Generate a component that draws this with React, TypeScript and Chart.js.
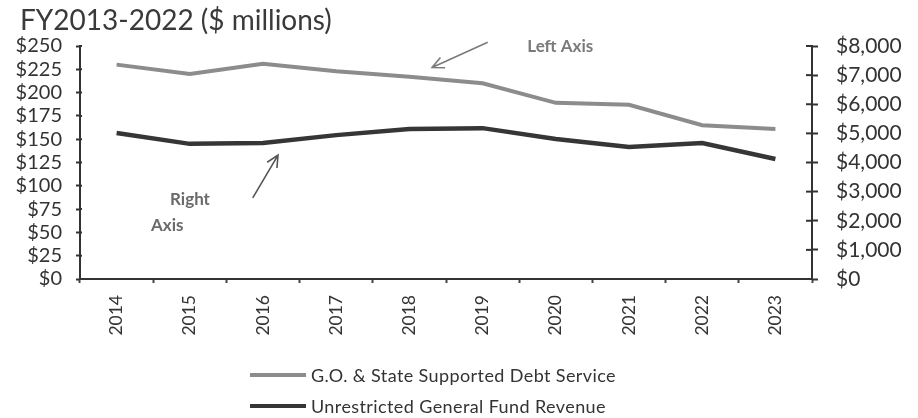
import React, { useEffect, useRef } from "react";
import { Chart, registerables } from "chart.js";

Chart.register(...registerables);

const titleText = "FY2013-2022 ($ millions)";
const years = ["2014", "2015", "2016", "2017", "2018", "2019", "2020", "2021", "2022", "2023"];
const debtService = [230, 220, 231, 223, 217, 210, 189, 187, 165, 161];
const gfRevenue = [5010, 4640, 4670, 4940, 5150, 5180, 4810, 4530, 4670, 4120];
const seriesNames = ["G.O. & State Supported Debt Service", "Unrestricted General Fund Revenue"];
const seriesColors = ["#8c8c8c", "#363636"];
const leftMax = 250;
const leftStep = 25;
const rightMax = 8000;
const rightStep = 1000;

// annotations anchored in data space (x = category index, y = left-axis value)
const notes = [
  { text: "Left Axis", xi: 5.61, y: 249, color: "#7a7a7a" },
  { text: "Right", xi: 0.73, y: 85, color: "#6a6a6a" },
  { text: "Axis", xi: 0.47, y: 57, color: "#6a6a6a" },
];
const arrows = [
  { from: [5.07, 254], to: [4.31, 227], color: "#7a7a7a" },
  { from: [1.86, 87], to: [2.205, 133], color: "#555555" },
];

const FONT = "Lato, 'Open Sans', sans-serif";

const fmtMoney = (v: number) => "$" + Number(v).toLocaleString("en-US");

const annotationPlugin = {
  id: "annotations",
  afterDraw(chart: any) {
    const ctx = chart.ctx;
    const xs = chart.scales.x;
    const ys = chart.scales.y;
    const yr = chart.scales.y1;
    ctx.save();
    ctx.strokeStyle = "#333";
    ctx.lineWidth = 2;
    for (let v = 0; v <= rightMax; v += rightStep) {
      const py = yr.getPixelForValue(v);
      ctx.beginPath();
      ctx.moveTo(chart.chartArea.right - 6, py);
      ctx.lineTo(chart.chartArea.right, py);
      ctx.stroke();
    }
    for (let v = 0; v <= leftMax; v += leftStep) {
      const py = ys.getPixelForValue(v);
      ctx.beginPath();
      ctx.moveTo(chart.chartArea.left, py);
      ctx.lineTo(chart.chartArea.left + 2, py);
      ctx.stroke();
    }
    ctx.font = `bold 17px ${FONT}`;
    ctx.textAlign = "left";
    ctx.textBaseline = "middle";
    for (const n of notes) {
      ctx.fillStyle = n.color;
      ctx.fillText(n.text, xs.getPixelForValue(n.xi), ys.getPixelForValue(n.y));
    }
    for (const a of arrows) {
      const x1 = xs.getPixelForValue(a.from[0]);
      const y1 = ys.getPixelForValue(a.from[1]);
      const x2 = xs.getPixelForValue(a.to[0]);
      const y2 = ys.getPixelForValue(a.to[1]);
      ctx.strokeStyle = a.color;
      ctx.lineWidth = 1.6;
      ctx.beginPath();
      ctx.moveTo(x1, y1);
      ctx.lineTo(x2, y2);
      const ang = Math.atan2(y2 - y1, x2 - x1);
      const L = 13;
      ctx.moveTo(x2 - L * Math.cos(ang - 0.45), y2 - L * Math.sin(ang - 0.45));
      ctx.lineTo(x2, y2);
      ctx.lineTo(x2 - L * Math.cos(ang + 0.45), y2 - L * Math.sin(ang + 0.45));
      ctx.stroke();
    }
    ctx.restore();
  },
};

export default function App() {
  const ref = useRef<HTMLCanvasElement | null>(null);

  useEffect(() => {
    if (!ref.current) return;
    const chart = new Chart(ref.current, {
      type: "line",
      data: {
        labels: years,
        datasets: [
          {
            label: seriesNames[0],
            data: debtService,
            borderColor: seriesColors[0],
            backgroundColor: seriesColors[0],
            borderWidth: 4,
            pointRadius: 0,
            tension: 0,
            yAxisID: "y",
          },
          {
            label: seriesNames[1],
            data: gfRevenue,
            borderColor: seriesColors[1],
            backgroundColor: seriesColors[1],
            borderWidth: 4.5,
            pointRadius: 0,
            tension: 0,
            yAxisID: "y1",
          },
        ],
      },
      options: {
        responsive: false,
        animation: false,
        events: [],
        layout: { padding: { top: 46, left: 0, right: 0, bottom: 0 } },
        plugins: { legend: { display: false }, title: { display: false }, tooltip: { enabled: false } },
        scales: {
          x: {
            offset: true,
            grid: { display: true, drawOnChartArea: false, offset: true, tickLength: 4, tickColor: "#444", tickWidth: 2 },
            border: { display: true, color: "#333", width: 2 },
            ticks: {
              minRotation: 90,
              maxRotation: 90,
              autoSkip: false,
              padding: 12,
              color: "#333",
              font: { family: FONT, size: 17.5 },
            },
            afterFit: (s: any) => {
              s.height = 139;
            },
          },
          y: {
            position: "left",
            min: 0,
            max: leftMax,
            grid: { display: true, drawOnChartArea: false, tickLength: 4, tickColor: "#333", tickWidth: 2 },
            border: { display: true, color: "#333", width: 2 },
            ticks: {
              stepSize: leftStep,
              autoSkip: false,
              padding: 14,
              color: "#333",
              font: { family: FONT, size: 20 },
              callback: (v: any) => fmtMoney(v),
            },
            afterFit: (s: any) => {
              s.width = 80;
            },
          },
          y1: {
            position: "right",
            min: 0,
            max: rightMax,
            grid: { display: true, drawOnChartArea: false, tickLength: 6, tickColor: "#333", tickWidth: 2 },
            border: { display: true, color: "#333", width: 2 },
            ticks: {
              stepSize: rightStep,
              autoSkip: false,
              padding: 18,
              color: "#333",
              font: { family: FONT, size: 21 },
              callback: (v: any) => fmtMoney(v),
            },
            afterFit: (s: any) => {
              s.width = 106;
            },
          },
        },
      },
      plugins: [annotationPlugin],
    });
    return () => chart.destroy();
  }, []);

  return (
    <div style={{ position: "absolute", left: 0, top: 0, width: 918, height: 418, background: "#fff", overflow: "hidden" }}>
      <canvas ref={ref} width={918} height={418} style={{ display: "block" }} />
      <div
        style={{
          position: "absolute",
          left: 20,
          top: 1,
          fontFamily: FONT,
          fontSize: 28,
          color: "#3a3a3a",
          lineHeight: "36px",
          whiteSpace: "nowrap",
        }}
      >
        {titleText}
      </div>
      {seriesNames.map((name, i) => (
        <div
          key={name}
          style={{
            position: "absolute",
            left: 250,
            top: 364 + i * 31,
            height: 22,
            display: "flex",
            alignItems: "center",
            fontFamily: FONT,
            fontSize: 18,
            letterSpacing: "0.4px",
            color: "#333",
            whiteSpace: "nowrap",
          }}
        >
          <span style={{ display: "inline-block", width: 56, height: 4, background: seriesColors[i], marginRight: 5 }} />
          {name}
        </div>
      ))}
    </div>
  );
}
